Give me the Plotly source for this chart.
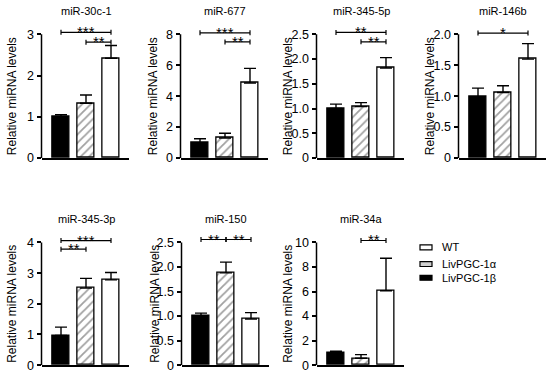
import plotly.graph_objects as go

# ---------------- data ----------------
groups = ["LivPGC-1β", "LivPGC-1α", "WT"]
mirnas = ["miR-30c-1", "miR-677", "miR-345-5p", "miR-146b",
          "miR-345-3p", "miR-150", "miR-34a"]

mean_30c1 = [1.00, 1.33, 2.42]
err_30c1 = [0.05, 0.20, 0.31]
mean_677 = [0.97, 1.30, 4.85]
err_677 = [0.28, 0.30, 0.95]
mean_3455p = [1.00, 1.04, 1.82]
err_3455p = [0.09, 0.08, 0.21]
mean_146b = [0.99, 1.06, 1.60]
err_146b = [0.14, 0.11, 0.25]
mean_3453p = [0.97, 2.51, 2.78]
err_3453p = [0.27, 0.32, 0.24]
mean_150 = [1.00, 1.88, 0.94]
err_150 = [0.06, 0.22, 0.13]
mean_34a = [1.00, 0.56, 6.06]
err_34a = [0.13, 0.30, 2.65]

means = [mean_30c1, mean_677, mean_3455p, mean_146b, mean_3453p, mean_150, mean_34a]
errs = [err_30c1, err_677, err_3455p, err_146b, err_3453p, err_150, err_34a]

tick_vals = [
    [0, 1, 2, 3],
    [0, 2, 4, 6, 8],
    [0, 0.5, 1.0, 1.5, 2.0, 2.5],
    [0, 0.5, 1.0, 1.5, 2.0],
    [0, 1, 2, 3, 4],
    [0, 0.5, 1.0, 1.5, 2.0, 2.5],
    [0, 2, 4, 6, 8, 10],
]
tick_text = [
    ["0", "1", "2", "3"],
    ["0", "2", "4", "6", "8"],
    ["0", "0.5", "1.0", "1.5", "2.0", "2.5"],
    ["0", "0.5", "1.0", "1.5", "2.0"],
    ["0", "1", "2", "3", "4"],
    ["0", "0.5", "1.0", "1.5", "2.0", "2.5"],
    ["0", "2", "4", "6", "8", "10"],
]

# significance brackets: (panel, group index from, group index to, height, label)
brackets = [
    (0, 0, 2, 3.05, "***"), (0, 1, 2, 2.81, "**"),
    (1, 0, 2, 8.10, "***"), (1, 1, 2, 7.51, "**"),
    (2, 0, 2, 2.54, "**"), (2, 1, 2, 2.35, "**"),
    (3, 0, 2, 2.02, "*"),
    (4, 0, 2, 4.06, "***"), (4, 0, 1, 3.78, "**"),
    (5, 0, 1, 2.56, "**"), (5, 1, 2, 2.56, "**"),
    (6, 1, 2, 10.16, "**"),
]

legend_labels = ["WT", "LivPGC-1α", "LivPGC-1β"]

# ---------------- layout geometry (pixels) ----------------
W, H = 550, 381
FONT = "Arial, Liberation Sans, sans-serif"
black_center = [61, 200, 336, 478, 61, 201, 336]
row_of = [0, 0, 0, 0, 1, 1, 1]
row_bottom = [161, 372]
row_toptick = [35, 247]
row_domtop = [18, 230]
ytitle_x = [12, 153, 288, 430, 12, 155, 288]
title_y = [11, 223]

PX_PER_CAT = 25.0
X_LEFT, X_RIGHT = -0.78, 2.70


def px_x(p):
    return p / W


def px_y(p):
    return 1 - p / H


fig = go.Figure()
shapes = []
annotations = []

for k in range(7):
    r = row_of[k]
    xa = "x" if k == 0 else f"x{k+1}"
    ya = "y" if k == 0 else f"y{k+1}"
    xl = "xaxis" if k == 0 else f"xaxis{k+1}"
    yl = "yaxis" if k == 0 else f"yaxis{k+1}"
    c = black_center[k]
    x0p = c - (0 - X_LEFT) * PX_PER_CAT
    x1p = c + (X_RIGHT - 0) * PX_PER_CAT
    top = tick_vals[k][-1]
    span_px = row_bottom[r] - row_toptick[r]
    ymax = top * (row_bottom[r] - row_domtop[r]) / span_px

    fig.add_trace(go.Bar(
        x=[0, 1, 2], y=means[k], width=0.66,
        xaxis=xa, yaxis=ya, showlegend=False, hoverinfo="skip",
        marker=dict(
            color=["black", "white", "white"],
            line=dict(color="black", width=1.3),
            pattern=dict(shape=["", "/", ""], fgcolor="black",
                         bgcolor="white", size=6, solidity=0.3),
        ),
        error_y=dict(type="data", symmetric=False, array=errs[k],
                     arrayminus=[0, 0, 0], color="black",
                     thickness=1.4, width=6),
    ))

    fig.layout[xl] = dict(
        domain=[px_x(x0p), px_x(x1p)], range=[X_LEFT, X_RIGHT],
        anchor=ya, showline=True, linecolor="black", linewidth=1.5,
        showticklabels=False, ticks="", showgrid=False, zeroline=False,
        fixedrange=True,
    )
    fig.layout[yl] = dict(
        domain=[px_y(row_bottom[r]), px_y(row_domtop[r])], range=[0, ymax],
        anchor=xa, showline=False, tickvals=tick_vals[k],
        ticktext=tick_text[k], ticks="outside", ticklen=4, tickwidth=1.5,
        tickcolor="black", showgrid=False, zeroline=False,
        tickfont=dict(family=FONT, size=12.5, color="black"),
        fixedrange=True,
    )
    # y axis line up to top tick only
    shapes.append(dict(type="line", xref=f"{xa} domain", yref=ya,
                       x0=0, x1=0, y0=0, y1=top,
                       line=dict(color="black", width=1.5)))
    # panel title
    annotations.append(dict(text=mirnas[k], xref=xa, x=1, yref="paper",
                            y=px_y(title_y[r]), showarrow=False,
                            xanchor="center", yanchor="middle",
                            font=dict(family=FONT, size=11, color="black")))
    # y axis title
    annotations.append(dict(text="Relative miRNA levels", xref="paper",
                            x=px_x(ytitle_x[k]), yref="paper",
                            y=px_y((row_bottom[r] + row_toptick[r]) / 2),
                            textangle=-90, showarrow=False,
                            xanchor="center", yanchor="middle",
                            font=dict(family=FONT, size=12, color="black")))

for (k, i0, i1, h, lab) in brackets:
    xa = "x" if k == 0 else f"x{k+1}"
    ya = "y" if k == 0 else f"y{k+1}"
    shapes.append(dict(type="line", xref=xa, yref=ya, x0=i0, x1=i1,
                       y0=h, y1=h, line=dict(color="black", width=1.2)))
    for xe in (i0, i1):
        shapes.append(dict(type="line", xref=xa, yref=ya, ysizemode="pixel",
                           yanchor=h, y0=-2.5, y1=2.5, x0=xe, x1=xe,
                           line=dict(color="black", width=1.2)))
    annotations.append(dict(text=lab, xref=xa, x=(i0 + i1) / 2, yref=ya,
                            y=h, yanchor="bottom", yshift=-4, height=8,
                            borderpad=0, showarrow=False,
                            font=dict(family=FONT, size=15, color="black")))

# ---------------- custom legend ----------------
legend_y = [252, 269, 283]
legend_fill = ["white", "#cfcfcf", "black"]
for lab, yc, fc in zip(legend_labels, legend_y, legend_fill):
    shapes.append(dict(type="rect", xref="paper", yref="paper",
                       x0=px_x(420), x1=px_x(432),
                       y0=px_y(yc + 2.5), y1=px_y(yc - 2.5),
                       fillcolor=fc, line=dict(color="black", width=1.2)))
    annotations.append(dict(text=lab, xref="paper", yref="paper",
                            x=px_x(440), y=px_y(yc), xanchor="left",
                            yanchor="middle", showarrow=False,
                            font=dict(family=FONT, size=11, color="black")))

fig.update_layout(
    width=W, height=H, margin=dict(l=0, r=0, t=0, b=0),
    paper_bgcolor="white", plot_bgcolor="white",
    shapes=shapes, annotations=annotations, bargap=0,
    font=dict(family=FONT, color="black"), hovermode=False,
)

fig.write_html("out.html", config={"displayModeBar": False},
               post_script="document.body.style.margin='0px';"
                           "document.body.style.padding='0px';")
